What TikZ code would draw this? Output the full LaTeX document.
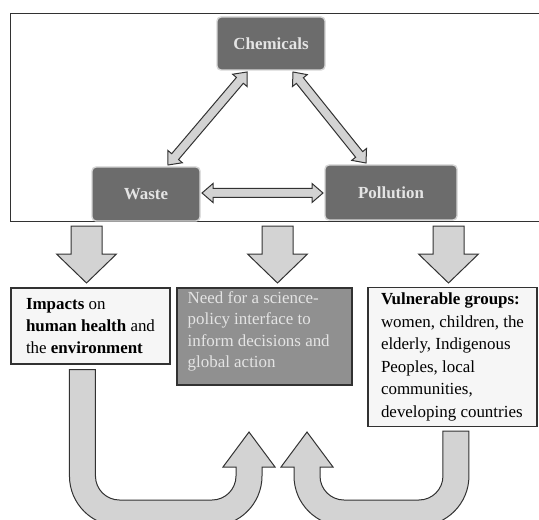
\documentclass[tikz,border=0pt]{standalone}
\usepackage{fontspec}
\setmainfont{Liberation Serif}
\usetikzlibrary{calc}

\definecolor{boxdark}{HTML}{6C6C6C}
\definecolor{boxrim}{HTML}{D6D6D6}
\definecolor{boxtext}{HTML}{E4E4E4}
\definecolor{boxmid}{HTML}{909090}
\definecolor{edge}{HTML}{323232}
\definecolor{paper}{HTML}{F6F6F6}
\definecolor{arrowgray}{HTML}{D3D3D3}

\tikzset{
  topbox/.style={draw=boxrim, line width=1.4bp, fill=boxdark, rounded corners=4bp,
    text=boxtext, inner sep=0pt, font=\bfseries\fontsize{17}{22}\selectfont},
  textbox/.style={draw=edge, line width=1.1bp, fill=paper, inner sep=0pt, align=left},
  needbox/.style={draw=edge, line width=1.1bp, fill=boxmid, inner sep=0pt},
  arrowfill/.style={draw=edge, line width=1bp, fill=arrowgray, line join=miter},
}

% two-headed arrow between two named points
\newcommand{\twoway}[2]{%
  \draw[arrowfill] (#1)
    -- ($(#1)!11bp!(#2)!9.5bp!90:(#2)$)
    -- ($(#1)!11bp!(#2)!4.5bp!90:(#2)$)
    -- ($(#2)!11bp!(#1)!4.5bp!-90:(#1)$)
    -- ($(#2)!11bp!(#1)!9.5bp!-90:(#1)$)
    -- (#2)
    -- ($(#2)!11bp!(#1)!9.5bp!90:(#1)$)
    -- ($(#2)!11bp!(#1)!4.5bp!90:(#1)$)
    -- ($(#1)!11bp!(#2)!4.5bp!-90:(#2)$)
    -- ($(#1)!11bp!(#2)!9.5bp!-90:(#2)$)
    -- cycle;}

% broad arrow pointing down
\newcommand{\downarr}[2]{%
  \draw[arrowfill] let \p1=(#1), \p2=(#2) in
    ({\x1-15.5bp},\y1) -- ({\x1-15.5bp},{\y2+29bp}) -- ({\x1-30bp},{\y2+29bp})
    -- (\x2,\y2)
    -- ({\x1+30bp},{\y2+29bp}) -- ({\x1+15.5bp},{\y2+29bp}) -- ({\x1+15.5bp},\y1)
    -- cycle;}

% U-turn arrow: start, tip, floor, side (1 = to the right, -1 = to the left)
\newcommand{\uarr}[4]{%
  \draw[arrowfill] let \p1=(#1), \p2=(#2), \p3=(#3) in
    ({\x1-(#4)*13bp},\y1)
    -- ({\x1-(#4)*13bp},{\y3+37bp})
    arc[start angle={90+90*(#4)}, end angle={90+180*(#4)}, radius=50bp]
    -- ({\x2+(#4)*13bp-(#4)*50bp},{\y3-13bp})
    arc[start angle=270, end angle={270+90*(#4)}, radius=50bp]
    -- ({\x2+(#4)*13bp},{\y2-35bp})
    -- ({\x2+(#4)*26bp},{\y2-35bp})
    -- (\x2,\y2)
    -- ({\x2-(#4)*26bp},{\y2-35bp})
    -- ({\x2-(#4)*13bp},{\y2-35bp})
    -- ({\x2-(#4)*13bp},{\y3+37bp})
    arc[start angle={90-90*(#4)}, end angle={90-180*(#4)}, radius=24bp]
    -- ({\x1+(#4)*37bp},{\y3+13bp})
    arc[start angle=270, end angle={270-90*(#4)}, radius=24bp]
    -- ({\x1+(#4)*13bp},\y1)
    -- cycle;}

\begin{document}
\begin{tikzpicture}[x=1bp, y=-1bp]

  \useasboundingbox (0,0) rectangle (539,520);

  % Frame round the triangle
  \draw[edge, line width=1bp] (10.5,14) rectangle (541,221);

  % The three corner boxes
  \node[topbox, minimum width=108bp, minimum height=53bp] (chem) at (271,43.5) {Chemicals};
  \node[topbox, minimum width=108bp, minimum height=54bp] (waste) at (146,194) {Waste};
  \node[topbox, minimum width=132bp, minimum height=55bp] (poll) at (391,192.5) {Pollution};

  % Arrows of the triangle
  \coordinate (wc1) at (168,165);
  \coordinate (wc2) at (247,72);
  \coordinate (pc1) at (366,163);
  \coordinate (pc2) at (293,72);
  \coordinate (wp1) at (202,193);
  \coordinate (wp2) at (323,193);
  \twoway{wc1}{wc2}
  \twoway{pc1}{pc2}
  \twoway{wp1}{wp2}

  % Lower boxes
  \node[textbox, minimum width=159bp, minimum height=76bp,
        font=\fontsize{17}{22.5}\selectfont] (impacts) at (90.5,326)
    {\textbf{Impacts} on\\ \textbf{human health} and\\ the \textbf{environment}};
  \node[needbox, minimum width=175bp, minimum height=97bp] (need) at (264.5,336.5) {};
  \node[anchor=north west, inner sep=0pt, align=left, text=boxtext,
        font=\fontsize{17}{21.7}\selectfont] (needtext) at ($(need.north west)+(11,3.5)$)
    {Need for a science-\\ policy interface to\\ inform decisions and\\ global action};
  \node[textbox, minimum width=169bp, minimum height=139bp,
        font=\fontsize{17}{22.6}\selectfont] (vuln) at (452.5,357)
    {\textbf{Vulnerable groups:}\\ women, children, the\\ elderly, Indigenous\\
     Peoples, local\\ communities,\\ developing countries};

  % Arrows down from the frame
  \coordinate (dL) at (86.5,226);
  \coordinate (dLt) at (86.5,283);
  \coordinate (dM) at (277.5,226);
  \coordinate (dMt) at (277.5,283);
  \coordinate (dR) at (448.5,226);
  \coordinate (dRt) at (448.5,283);
  \downarr{dL}{dLt}
  \downarr{dM}{dMt}
  \downarr{dR}{dRt}

  % Arrows turning back up
  \coordinate (floor) at (270,513);
  \coordinate (uL) at ($(impacts.south west)+(72,5)$);
  \coordinate (uLt) at (249,432);
  \coordinate (uR) at ($(vuln.south west)+(88.5,4)$);
  \coordinate (uRt) at (307,432);
  \uarr{uL}{uLt}{floor}{1}
  \uarr{uR}{uRt}{floor}{-1}

\end{tikzpicture}
\end{document}
